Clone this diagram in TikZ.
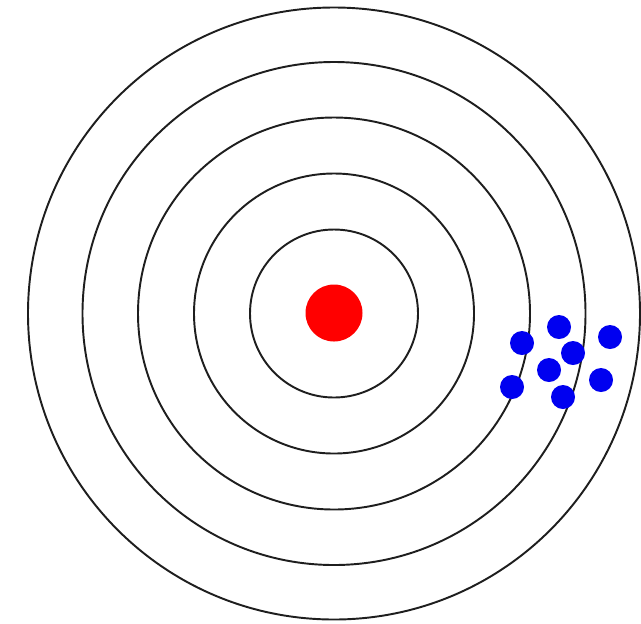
\documentclass[tikz,border=0pt]{standalone}
\usepackage{xcolor}
\usepackage{tikz}
\definecolor{ringgray}{RGB}{30,30,30}
\definecolor{hitblue}{RGB}{0,0,240}
\definecolor{bullred}{RGB}{255,0,0}

\begin{document}
\begin{tikzpicture}[x=0.02cm, y=-0.02cm]
  \useasboundingbox (0,0) rectangle (641,623);
  % rings
  \foreach \r in {84,140,196,251.5,306}
    \draw[ringgray, line width=1.1pt] (334,313.5) circle (\r);
  % bull's eye
  \fill[bullred] (334,313) circle (28.5);
  % hits
  \foreach \px/\py in {559/327, 522/343, 610/337, 573/353,
                       549/370, 512/387, 601/380, 563/397}
    \fill[hitblue] (\px,\py) circle (12);
\end{tikzpicture}
\end{document}
